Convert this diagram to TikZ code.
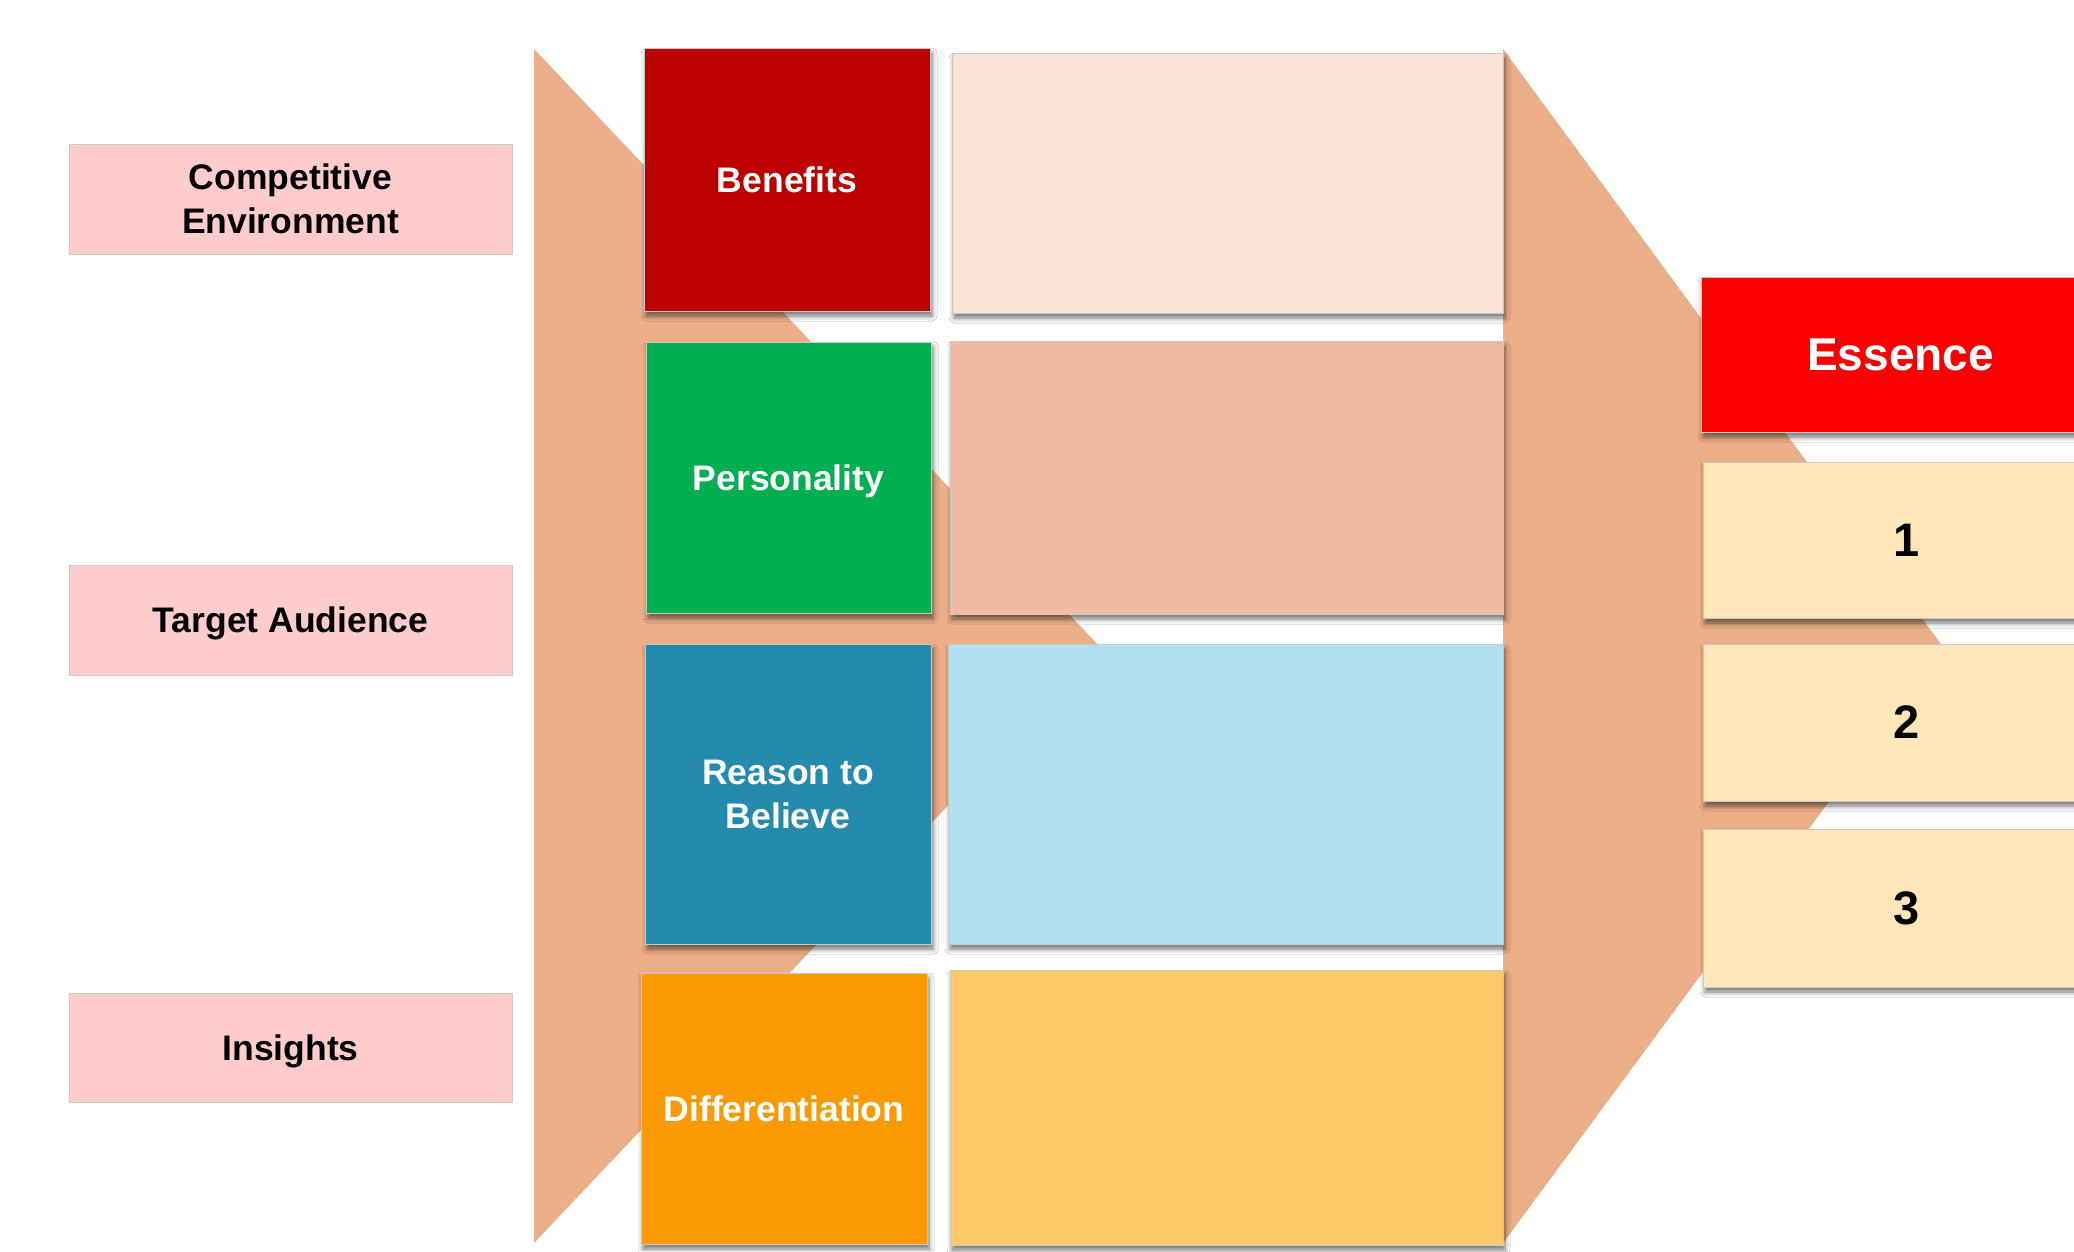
\documentclass[tikz,border=0pt]{standalone}
\usepackage{fontspec}
\setmainfont{Liberation Sans}
\usetikzlibrary{shadows.blur}

\definecolor{funnel}{RGB}{235,174,134}
\definecolor{pinkbox}{RGB}{255,204,204}
\definecolor{benred}{RGB}{188,0,0}
\definecolor{benlight}{RGB}{249,227,213}
\definecolor{pergreen}{RGB}{0,175,80}
\definecolor{perlight}{RGB}{240,187,160}
\definecolor{reablue}{RGB}{36,139,174}
\definecolor{realight}{RGB}{179,224,238}
\definecolor{diforange}{RGB}{250,154,0}
\definecolor{diflight}{RGB}{254,202,105}
\definecolor{essred}{RGB}{250,0,0}
\definecolor{numcream}{RGB}{255,230,185}

\begin{document}
\begin{tikzpicture}[x=1pt,y=-1pt,
  card/.style={rectangle, inner sep=0pt, outer sep=0pt, align=center,
    font=\bfseries\fontsize{35.5}{44}\selectfont, draw=black!22, line width=0.8pt},
  shadowed/.style={blur shadow={shadow xshift=2pt, shadow yshift=-5pt,
    shadow blur radius=5pt, shadow opacity=55}},
  label/.style={card, fill=pinkbox, draw=black!20, text=black},
  head/.style={card, shadowed, text=white},
  blank/.style={card, shadowed},
  numbox/.style={card, shadowed, fill=numcream, text=black,
    font=\bfseries\fontsize{47}{50}\selectfont},
  nodesc/.style={text depth=0pt},
]
\useasboundingbox (0,0) rectangle (2074,1252);
\clip (0,0) rectangle (2074,1252);
\fill[white] (0,0) rectangle (2074,1252);

% funnels
\fill[funnel] (534,49) -- (534,1243) -- (1099,646) -- cycle;
\fill[funnel] (1503,49) -- (1503,1243) -- (1943,647) -- cycle;

% inputs on the left
\node[label, minimum width=443pt, minimum height=110pt] (ce) at (290.5,199) {Competitive\\Environment};
\node[label, nodesc, minimum width=443pt, minimum height=110pt] (ta) at (290.5,620) {Target Audience};
\node[label, nodesc, minimum width=443pt, minimum height=109pt] (ins) at (290.5,1047.5) {Insights};

% brand pillars
\node[head, fill=benred, minimum width=286pt, minimum height=263pt] (ben) at (787,179.5) {Benefits};
\node[blank, fill=benlight, minimum width=551pt, minimum height=260pt] (benR) at (1227.5,183) {};
\node[head, nodesc, fill=pergreen, minimum width=285pt, minimum height=271pt] (per) at (788.5,477.5) {Personality};
\node[blank, fill=perlight, minimum width=553pt, minimum height=273pt] (perR) at (1226.5,477.5) {};
\node[head, fill=reablue, minimum width=286pt, minimum height=300pt] (rea) at (788,794) {Reason to\\Believe};
\node[blank, fill=realight, minimum width=555pt, minimum height=300pt] (reaR) at (1225.5,794) {};
\node[head, fill=diforange, minimum width=286pt, minimum height=271pt] (dif) at (784,1108.5) {Differentiation};
\node[blank, fill=diflight, minimum width=553pt, minimum height=275pt] (difR) at (1226.5,1107.5) {};

% essence
\node[head, fill=essred, minimum width=399pt, minimum height=155pt,
  font=\bfseries\fontsize{46}{50}\selectfont] (ess) at (1900.5,354.5) {Essence};
\node[numbox, minimum width=407pt, minimum height=156pt] (n1) at (1906.5,540) {1};
\node[numbox, minimum width=407pt, minimum height=157pt] (n2) at (1906.5,722.5) {2};
\node[numbox, minimum width=407pt, minimum height=158pt] (n3) at (1906.5,908) {3};
\end{tikzpicture}
\end{document}
